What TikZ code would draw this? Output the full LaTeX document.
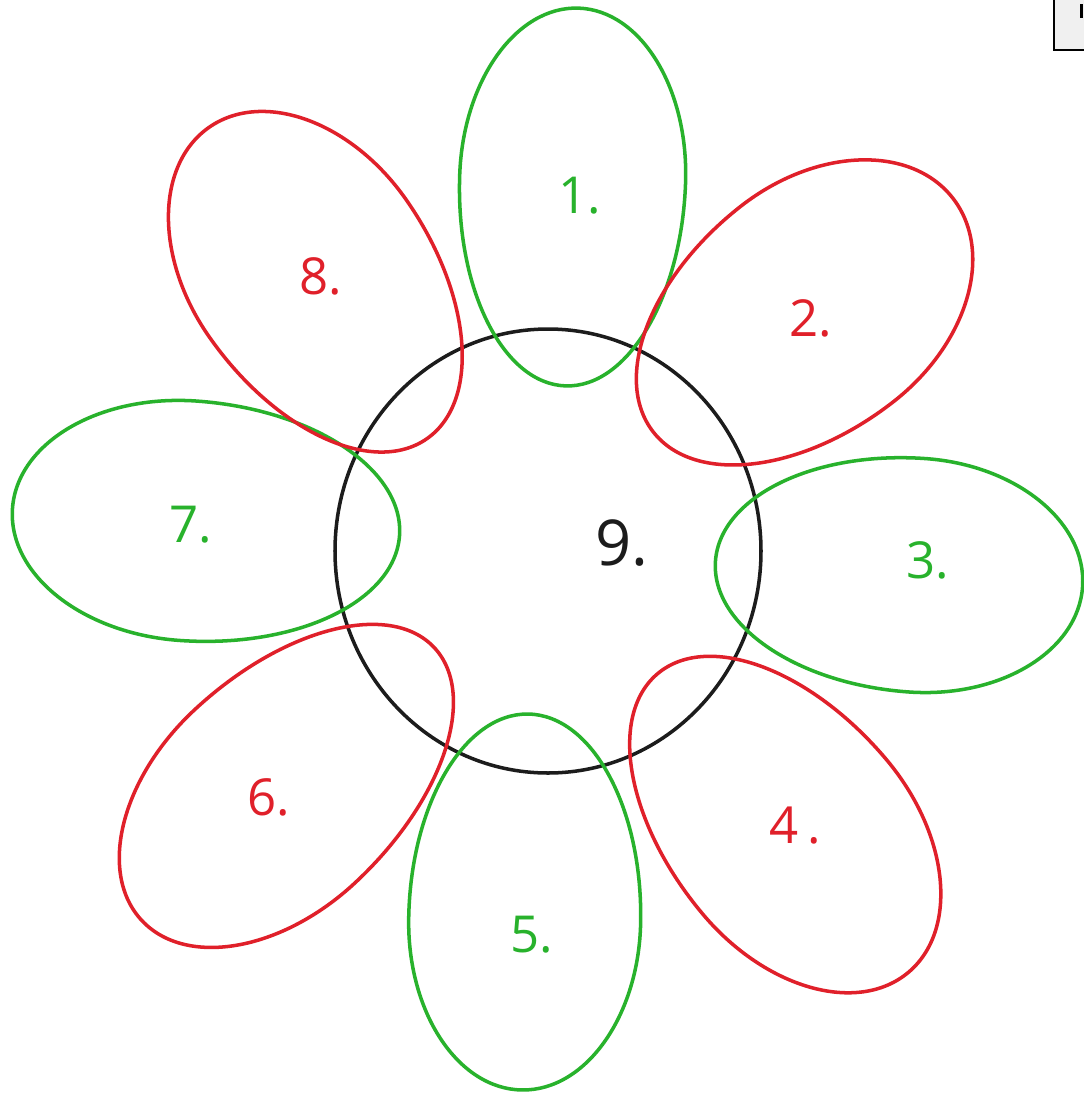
\documentclass[tikz,border=0pt]{standalone}
\usepackage{fontspec}
\setmainfont{Open Sans}
\definecolor{pgreen}{RGB}{40,178,44}
\definecolor{pred}{RGB}{224,32,42}
\definecolor{pdark}{RGB}{28,28,28}
\tikzset{
  petal/.style={line width=2pt, line join=round},
  gpetal/.style={petal, draw=pgreen},
  rpetal/.style={petal, draw=pred},
  lbl/.style={font=\fontsize{29}{34}\selectfont, inner sep=0pt}
}
% #1 style, #2 cx, #3 cy, #4 outward angle, #5 half length, #6 half width, #7 shift of widest point
\newcommand\eggpetal[7]{%
\begin{scope}[shift={(#2,#3)}, rotate=#4]
\draw[#1] (#5,0) .. controls (#5,0.552*#6) and ({#7+0.552*(#5-#7)},#6) .. (#7,#6)
 .. controls ({#7-0.552*(#5+#7)},#6) and (-#5,0.552*#6) .. (-#5,0)
 .. controls (-#5,-0.552*#6) and ({#7-0.552*(#5+#7)},-#6) .. (#7,-#6)
 .. controls ({#7+0.552*(#5-#7)},-#6) and (#5,-0.552*#6) .. (#5,0) -- cycle;
\end{scope}}
\begin{document}
\begin{tikzpicture}[x=0.02cm,y=0.02cm]
\useasboundingbox (0,0) rectangle (1083,-1093);
\fill[white] (0,0) rectangle (1083,-1093);
% corner box
\draw[line width=0.8pt, fill=black!6] (1054,2) rectangle (1090,-50);
\fill[black] (1080,-4) rectangle (1083,-18);
% centre circle
\draw[line width=2pt, draw=pdark] (548,-551) ellipse [x radius=213, y radius=222];
% petals
\eggpetal{gpetal}{572}{-197}{88}{189}{113}{18}
\eggpetal{rpetal}{803}{-315}{38}{190}{124}{18}
\eggpetal{gpetal}{899}{-574}{-4}{184}{117}{18}
\eggpetal{rpetal}{783}{-823}{-50}{195}{120}{18}
\eggpetal{gpetal}{525}{-902}{-91}{188}{116}{18}
\eggpetal{rpetal}{288}{-784}{223}{200}{118}{18}
\eggpetal{gpetal}{206}{-522}{176}{194}{120}{18}
\eggpetal{rpetal}{318}{-283}{125}{190}{120}{18}
% labels
\node[lbl, text=pgreen] (l1) at (580,-196) {1.};
\node[lbl, text=pred]   (l2) at (811,-318) {2.};
\node[lbl, text=pgreen] (l3) at (928,-560) {3.};
\node[lbl, text=pred]   (l4) at (795,-826) {4\,.};
\node[lbl, text=pgreen] (l5) at (532,-935) {5.};
\node[lbl, text=pred]   (l6) at (269,-797) {6.};
\node[lbl, text=pgreen] (l7) at (191,-525) {7.};
\node[lbl, text=pred]   (l8) at (321,-276) {8.};
\node[lbl, text=pdark, font=\fontsize{36}{40}\selectfont] (l9) at (622,-543) {9.};
\end{tikzpicture}
\end{document}
